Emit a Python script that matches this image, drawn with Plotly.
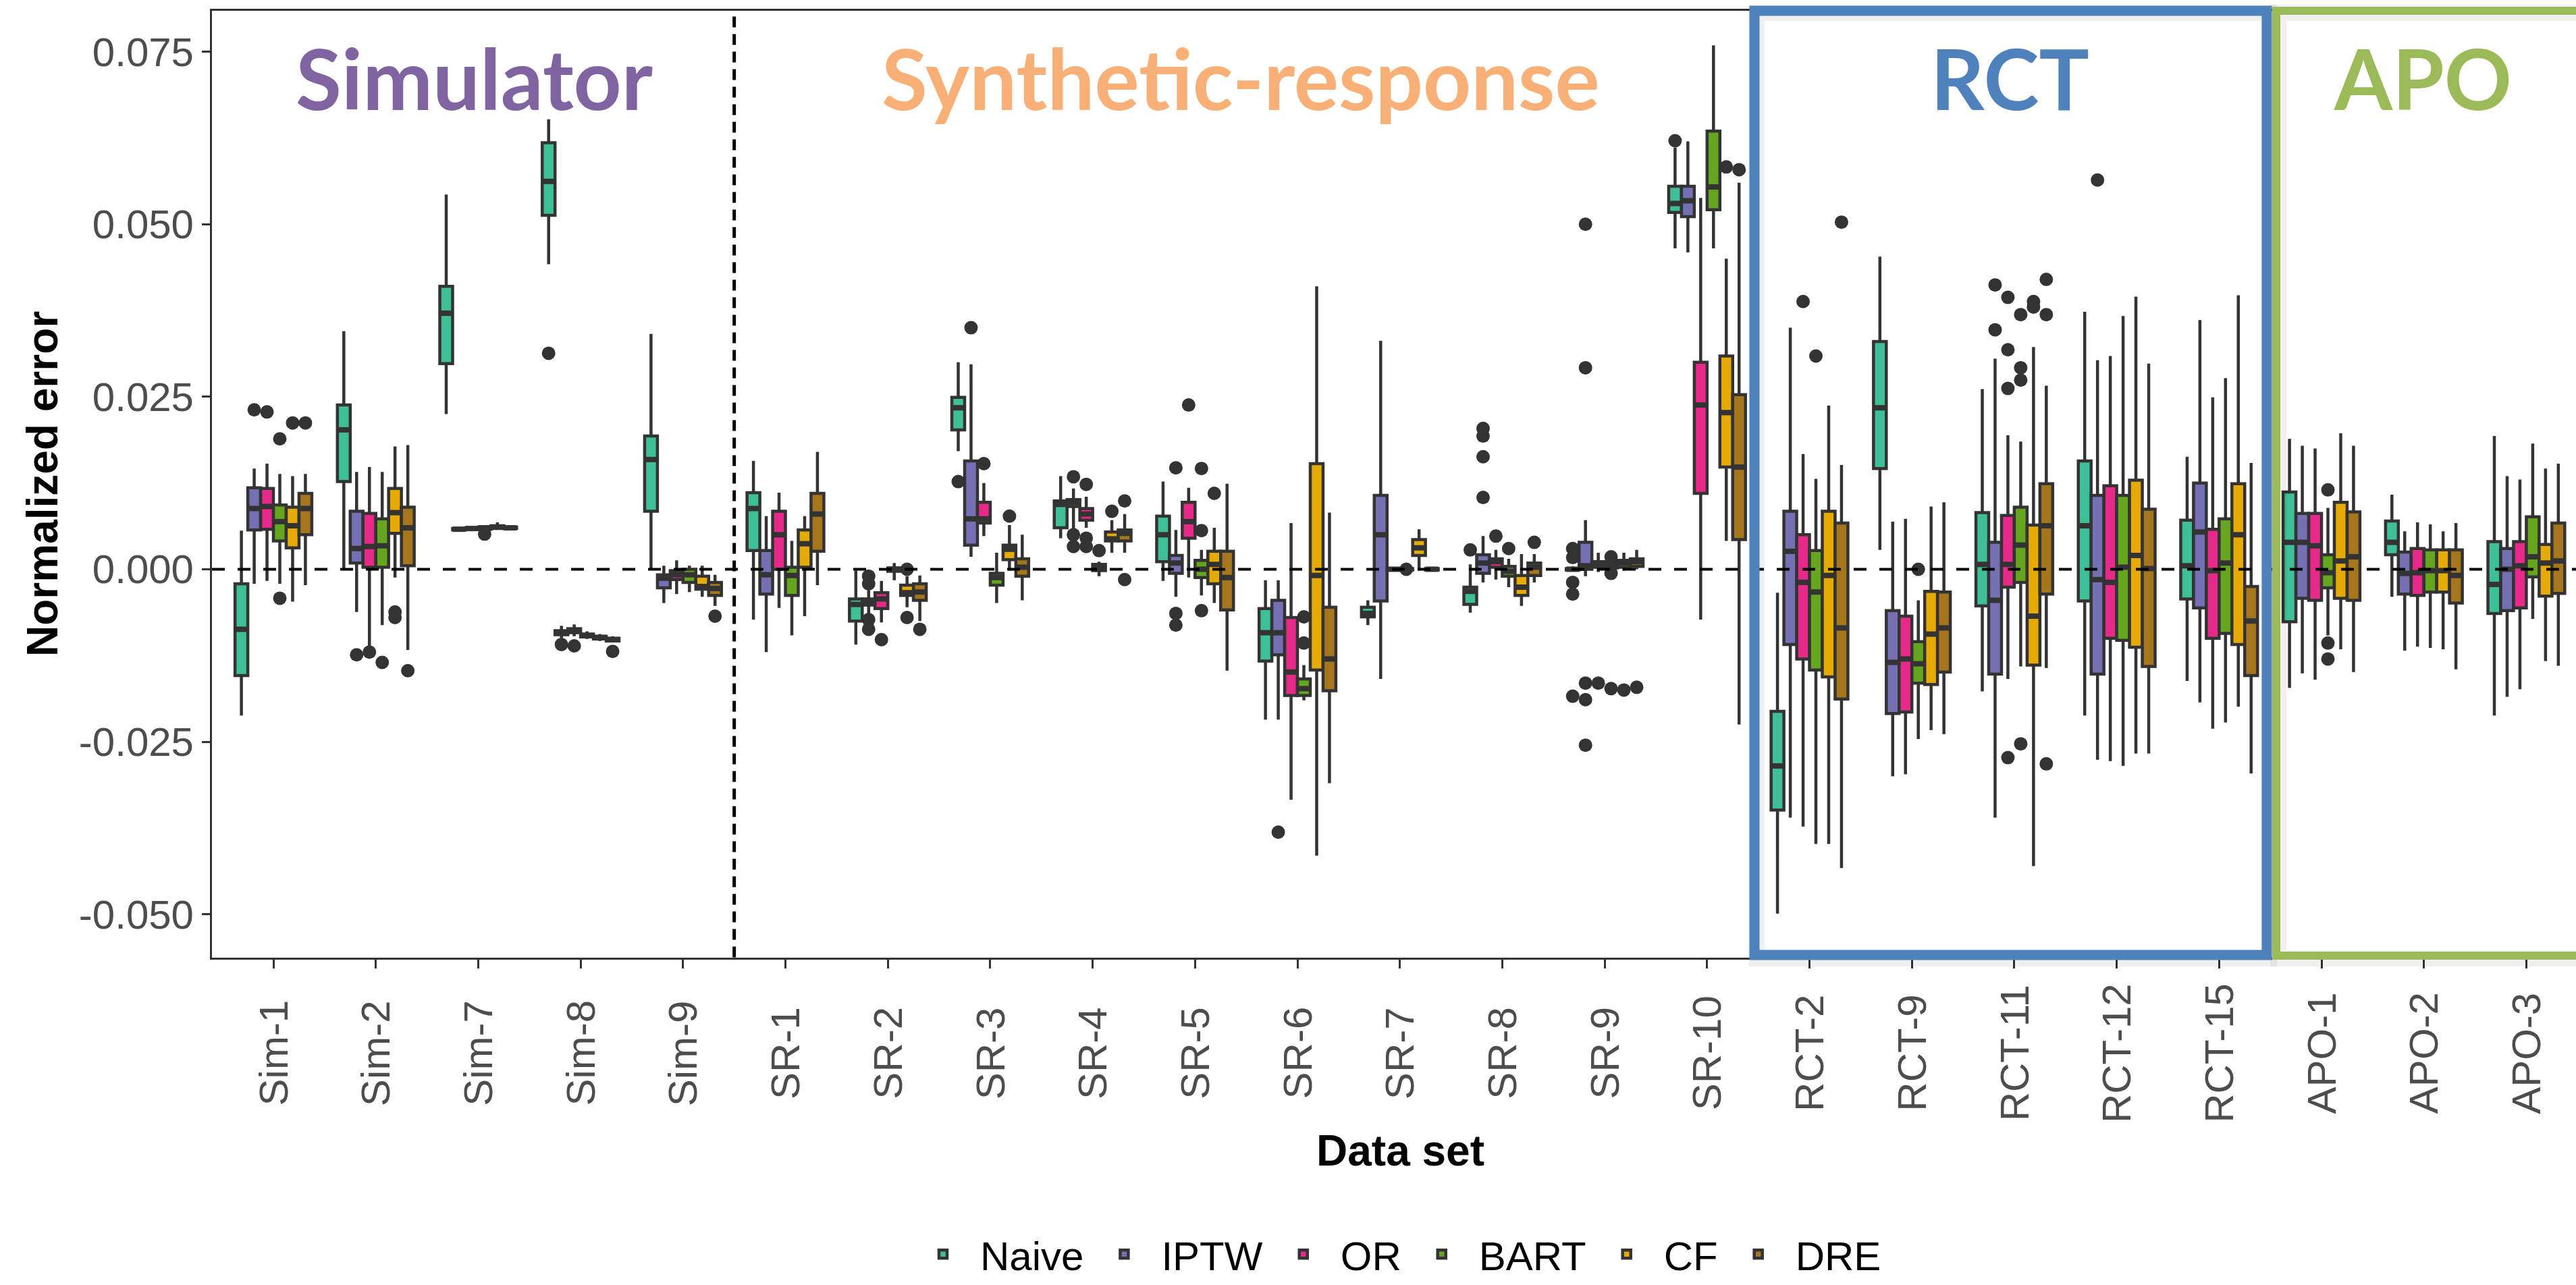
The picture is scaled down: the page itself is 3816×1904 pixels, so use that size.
import plotly.graph_objects as go

W, H = 3816, 1904

categories = ["Sim-1", "Sim-2", "Sim-7", "Sim-8", "Sim-9",
              "SR-1", "SR-2", "SR-3", "SR-4", "SR-5", "SR-6", "SR-7", "SR-8", "SR-9", "SR-10",
              "RCT-2", "RCT-9", "RCT-11", "RCT-12", "RCT-15",
              "APO-1", "APO-2", "APO-3"]
methods = ["Naive", "IPTW", "OR", "BART", "CF", "DRE"]
colors = ["#3FBF96", "#7570B3", "#E7298A", "#66A61E", "#E6AB02", "#A6761D"]
yticks = [-0.05, -0.025, 0.0, 0.025, 0.05, 0.075]
ytick_text = ["-0.050", "-0.025", "0.000", "0.025", "0.050", "0.075"]

# (lower whisker, q1, median, q3, upper whisker) per data set
naive = [
    (-0.0212, -0.0154, -0.0087, -0.0021, 0.0056),
    (0.0000, 0.0127, 0.0202, 0.0238, 0.0345),
    (0.0225, 0.0298, 0.0371, 0.0410, 0.0543),
    (0.0442, 0.0513, 0.0562, 0.0618, 0.0652),
    (0.0000, 0.0084, 0.0159, 0.0193, 0.0341),
    (-0.0073, 0.0027, 0.0088, 0.0111, 0.0157),
    (-0.0109, -0.0075, -0.0051, -0.0043, -0.0002),
    (0.0171, 0.0202, 0.0234, 0.0249, 0.0300),
    (0.0045, 0.0060, 0.0094, 0.0099, 0.0135),
    (-0.0017, 0.0011, 0.0050, 0.0077, 0.0127),
    (-0.0218, -0.0133, -0.0092, -0.0057, -0.0016),
    (-0.0081, -0.0069, -0.0064, -0.0055, -0.0045),
    (-0.0063, -0.0051, -0.0032, -0.0026, 0.0007),
    (-0.0003, -0.0001, 0.0000, 0.0001, 0.0004),
    (0.0465, 0.0517, 0.0530, 0.0555, 0.0611),
    (-0.0499, -0.0349, -0.0285, -0.0206, -0.0034),
    (0.0028, 0.0146, 0.0234, 0.0330, 0.0453),
    (-0.0177, -0.0053, 0.0007, 0.0082, 0.0261),
    (-0.0212, -0.0046, 0.0063, 0.0157, 0.0373),
    (-0.0162, -0.0043, 0.0005, 0.0071, 0.0163),
    (-0.0172, -0.0076, 0.0039, 0.0112, 0.0189),
    (-0.0040, 0.0021, 0.0039, 0.0070, 0.0108),
    (-0.0212, -0.0064, -0.0022, 0.0040, 0.0193),
]
iptw = [
    (-0.0021, 0.0057, 0.0088, 0.0118, 0.0146),
    (-0.0062, 0.0009, 0.0030, 0.0084, 0.0141),
    (0.0056, 0.0057, 0.0058, 0.0059, 0.0060),
    (-0.0100, -0.0095, -0.0092, -0.0089, -0.0082),
    (-0.0049, -0.0027, -0.0013, -0.0008, 0.0005),
    (-0.0120, -0.0036, -0.0008, 0.0027, 0.0077),
    (-0.0065, -0.0052, -0.0047, -0.0043, -0.0030),
    (0.0018, 0.0035, 0.0073, 0.0157, 0.0297),
    (0.0058, 0.0091, 0.0097, 0.0101, 0.0117),
    (-0.0040, -0.0006, 0.0009, 0.0020, 0.0057),
    (-0.0218, -0.0124, -0.0092, -0.0045, -0.0016),
    (-0.0159, -0.0046, 0.0050, 0.0107, 0.0331),
    (-0.0019, -0.0006, 0.0009, 0.0021, 0.0048),
    (-0.0010, 0.0000, 0.0005, 0.0039, 0.0071),
    (0.0459, 0.0511, 0.0534, 0.0555, 0.0620),
    (-0.0360, -0.0109, 0.0026, 0.0084, 0.0350),
    (-0.0300, -0.0209, -0.0135, -0.0060, 0.0069),
    (-0.0360, -0.0152, -0.0045, 0.0039, 0.0305),
    (-0.0276, -0.0152, -0.0015, 0.0107, 0.0303),
    (-0.0193, -0.0056, 0.0054, 0.0125, 0.0361),
    (-0.0151, -0.0042, 0.0039, 0.0081, 0.0179),
    (-0.0118, -0.0036, -0.0006, 0.0025, 0.0055),
    (-0.0185, -0.0060, 0.0000, 0.0030, 0.0135),
]
or_ = [
    (-0.0017, 0.0058, 0.0091, 0.0117, 0.0153),
    (-0.0113, 0.0003, 0.0033, 0.0081, 0.0148),
    (0.0056, 0.0058, 0.0059, 0.0060, 0.0062),
    (-0.0097, -0.0092, -0.0089, -0.0086, -0.0080),
    (-0.0036, -0.0015, -0.0008, -0.0002, 0.0013),
    (-0.0056, 0.0000, 0.0050, 0.0084, 0.0111),
    (-0.0077, -0.0057, -0.0043, -0.0034, -0.0017),
    (0.0048, 0.0067, 0.0073, 0.0097, 0.0125),
    (0.0060, 0.0071, 0.0080, 0.0088, 0.0105),
    (-0.0012, 0.0045, 0.0069, 0.0097, 0.0118),
    (-0.0334, -0.0183, -0.0149, -0.0070, 0.0067),
    (-0.0002, -0.0001, 0.0000, 0.0001, 0.0002),
    (-0.0015, 0.0003, 0.0011, 0.0015, 0.0028),
    (-0.0004, 0.0003, 0.0007, 0.0011, 0.0024),
    (-0.0073, 0.0110, 0.0238, 0.0300, 0.0538),
    (-0.0373, -0.0130, -0.0019, 0.0050, 0.0167),
    (-0.0297, -0.0207, -0.0130, -0.0068, 0.0073),
    (-0.0159, -0.0026, 0.0007, 0.0078, 0.0194),
    (-0.0278, -0.0100, -0.0019, 0.0121, 0.0309),
    (-0.0231, -0.0100, -0.0002, 0.0058, 0.0249),
    (-0.0160, -0.0045, 0.0034, 0.0081, 0.0175),
    (-0.0112, -0.0038, -0.0005, 0.0030, 0.0068),
    (-0.0174, -0.0056, 0.0005, 0.0040, 0.0130),
]
bart = [
    (-0.0021, 0.0041, 0.0069, 0.0093, 0.0138),
    (-0.0081, 0.0003, 0.0034, 0.0073, 0.0141),
    (0.0056, 0.0058, 0.0060, 0.0061, 0.0062),
    (-0.0101, -0.0098, -0.0096, -0.0094, -0.0090),
    (-0.0033, -0.0019, -0.0008, 0.0000, 0.0005),
    (-0.0096, -0.0038, -0.0009, 0.0003, 0.0041),
    (-0.0016, -0.0003, 0.0000, 0.0002, 0.0009),
    (-0.0049, -0.0023, -0.0012, -0.0006, 0.0024),
    (-0.0010, -0.0002, 0.0003, 0.0007, 0.0011),
    (-0.0038, -0.0012, 0.0000, 0.0013, 0.0028),
    (-0.0190, -0.0183, -0.0173, -0.0159, -0.0139),
    (-0.0003, -0.0001, 0.0000, 0.0001, 0.0003),
    (-0.0026, -0.0010, -0.0003, 0.0004, 0.0015),
    (-0.0002, 0.0002, 0.0005, 0.0009, 0.0013),
    (0.0465, 0.0521, 0.0554, 0.0635, 0.0759),
    (-0.0398, -0.0146, -0.0033, 0.0027, 0.0131),
    (-0.0246, -0.0165, -0.0137, -0.0105, -0.0045),
    (-0.0141, -0.0019, 0.0035, 0.0090, 0.0185),
    (-0.0285, -0.0103, 0.0003, 0.0107, 0.0367),
    (-0.0222, -0.0093, 0.0009, 0.0073, 0.0277),
    (-0.0096, -0.0027, -0.0005, 0.0021, 0.0089),
    (-0.0114, -0.0033, -0.0002, 0.0028, 0.0065),
    (-0.0072, -0.0011, 0.0018, 0.0076, 0.0182),
]
cf = [
    (-0.0047, 0.0031, 0.0063, 0.0090, 0.0135),
    (-0.0012, 0.0052, 0.0082, 0.0117, 0.0178),
    (0.0057, 0.0059, 0.0061, 0.0063, 0.0068),
    (-0.0104, -0.0101, -0.0099, -0.0097, -0.0094),
    (-0.0040, -0.0029, -0.0025, -0.0010, 0.0005),
    (-0.0068, 0.0003, 0.0037, 0.0057, 0.0077),
    (-0.0055, -0.0038, -0.0034, -0.0023, -0.0010),
    (-0.0002, 0.0014, 0.0029, 0.0035, 0.0064),
    (0.0024, 0.0041, 0.0044, 0.0054, 0.0071),
    (-0.0049, -0.0021, 0.0007, 0.0026, 0.0060),
    (-0.0415, -0.0146, -0.0009, 0.0153, 0.0410),
    (-0.0002, 0.0020, 0.0031, 0.0043, 0.0058),
    (-0.0053, -0.0038, -0.0026, -0.0009, 0.0022),
    (-0.0002, 0.0003, 0.0009, 0.0013, 0.0024),
    (0.0041, 0.0148, 0.0227, 0.0309, 0.0450),
    (-0.0398, -0.0156, -0.0009, 0.0084, 0.0237),
    (-0.0233, -0.0167, -0.0094, -0.0032, 0.0091),
    (-0.0430, -0.0139, -0.0068, 0.0064, 0.0322),
    (-0.0267, -0.0113, 0.0020, 0.0129, 0.0395),
    (-0.0199, -0.0109, 0.0050, 0.0124, 0.0397),
    (-0.0116, -0.0042, 0.0012, 0.0097, 0.0197),
    (-0.0116, -0.0033, -0.0002, 0.0028, 0.0055),
    (-0.0133, -0.0039, 0.0009, 0.0036, 0.0146),
]
dre = [
    (-0.0023, 0.0050, 0.0088, 0.0110, 0.0138),
    (-0.0117, 0.0005, 0.0060, 0.0090, 0.0180),
    (0.0058, 0.0059, 0.0060, 0.0061, 0.0062),
    (-0.0106, -0.0104, -0.0102, -0.0100, -0.0097),
    (-0.0053, -0.0038, -0.0028, -0.0019, -0.0008),
    (-0.0023, 0.0026, 0.0080, 0.0110, 0.0170),
    (-0.0075, -0.0045, -0.0033, -0.0021, -0.0009),
    (-0.0045, -0.0010, 0.0003, 0.0015, 0.0050),
    (0.0024, 0.0041, 0.0052, 0.0057, 0.0080),
    (-0.0147, -0.0059, -0.0012, 0.0026, 0.0124),
    (-0.0310, -0.0176, -0.0130, -0.0055, 0.0082),
    (-0.0002, -0.0001, 0.0000, 0.0001, 0.0002),
    (-0.0019, -0.0009, 0.0003, 0.0009, 0.0022),
    (0.0000, 0.0004, 0.0011, 0.0015, 0.0028),
    (-0.0225, 0.0043, 0.0148, 0.0253, 0.0560),
    (-0.0433, -0.0188, -0.0085, 0.0067, 0.0151),
    (-0.0239, -0.0149, -0.0085, -0.0033, 0.0097),
    (-0.0143, -0.0036, 0.0063, 0.0124, 0.0266),
    (-0.0267, -0.0141, 0.0001, 0.0087, 0.0298),
    (-0.0296, -0.0154, -0.0075, -0.0025, 0.0154),
    (-0.0149, -0.0045, 0.0018, 0.0083, 0.0179),
    (-0.0145, -0.0049, -0.0009, 0.0028, 0.0067),
    (-0.0140, -0.0035, 0.0012, 0.0067, 0.0153),
]

# outliers per data set
naive_out = [[], [], [], [0.0313], [], [], [], [0.0127], [], [], [], [], [0.0028],
             [0.0030, 0.0017, -0.0019, -0.0036, -0.0184], [0.0621], [], [], [], [], [], [], [], []]
iptw_out = [[0.0231], [-0.0124], [], [-0.0109], [], [], [-0.0010, -0.0021, -0.0073, -0.0087],
            [0.0350], [0.0134, 0.0050, 0.0033], [0.0147, -0.0064, -0.0081], [-0.0381], [],
            [0.0204, 0.0193, 0.0163, 0.0104], [0.0500, 0.0292, -0.0165, -0.0189, -0.0255],
            [], [], [], [0.0412, 0.0347], [0.0564], [], [], [], []]
or_out = [[0.0228], [-0.0120], [], [-0.0111], [], [], [-0.0102], [0.0153], [0.0123, 0.0045, 0.0033],
          [0.0238], [], [], [0.0048], [-0.0165], [], [0.0388], [], [0.0394, 0.0318, 0.0262, -0.0273],
          [], [], [], [], []]
bart_out = [[0.0189, -0.0042], [-0.0135], [0.0051], [], [], [], [], [], [0.0027],
            [0.0146, 0.0056, -0.0060], [-0.0069, -0.0107], [0.0], [0.0030], [0.0018, -0.0006, -0.0173],
            [], [0.0309], [0.0], [0.0369, 0.0292, 0.0274, -0.0253], [], [], [0.0115, -0.0107, -0.0130],
            [], []]
cf_out = [[0.0212], [-0.0062, -0.0070], [], [], [], [], [0.0, -0.0070], [0.0077], [0.0084], [0.0110],
          [], [], [], [-0.0175], [0.0583], [], [], [0.0388, 0.0380], [], [], [], [], []]
dre_out = [[0.0212], [-0.0147], [], [-0.0119], [-0.0068], [], [-0.0087], [], [0.0099, -0.0015], [],
           [], [], [0.0039], [-0.0171], [0.0579], [0.0503], [], [0.0420, 0.0369, -0.0282], [], [], [],
           [], []]

group_titles = ["Simulator", "Synthetic-response", "RCT", "APO"]
group_colors = ["#8064A2", "#F9B077", "#4F81BD", "#9BBB59"]

all_stats = [naive, iptw, or_, bart, cf, dre]
all_outs = [naive_out, iptw_out, or_out, bart_out, cf_out, dre_out]

FONT = "Liberation Sans, Arial, sans-serif"
DODGE = 0.75
BW = DODGE / len(methods)
EDGE = "#333333"


def fx(px):
    return px / W


def fy(py):
    return 1 - py / H


fig = go.Figure()
n = len(categories)
for m, (name, color, stats, outs) in enumerate(zip(methods, colors, all_stats, all_outs)):
    off = (m - (len(methods) - 1) / 2) * BW
    xs = [i + off for i in range(n)]
    lf = [s[0] for s in stats]
    q1 = [s[1] for s in stats]
    med = [s[2] for s in stats]
    q3 = [s[3] for s in stats]
    uf = [s[4] for s in stats]
    fig.add_trace(go.Box(
        x=xs, q1=q1, median=med, q3=q3, lowerfence=lf, upperfence=uf,
        width=BW, name=name, fillcolor=color,
        line=dict(color=EDGE, width=4.5), whiskerwidth=0,
        boxpoints=False, hoverinfo="skip",
    ))
    mx, my = [], []
    for x, v in zip(xs, med):
        mx += [x - BW / 2, x + BW / 2, None]
        my += [v, v, None]
    fig.add_trace(go.Scatter(x=mx, y=my, mode="lines", line=dict(color=EDGE, width=8),
                             showlegend=False, hoverinfo="skip"))
    ox, oy = [], []
    for x, lst in zip(xs, outs):
        for v in lst:
            ox.append(x)
            oy.append(v)
    fig.add_trace(go.Scatter(x=ox, y=oy, mode="markers",
                             marker=dict(size=20, color=EDGE, line=dict(width=0)),
                             showlegend=False, hoverinfo="skip"))

# category labels (rotated, centred like ggplot)
for i, c in enumerate(categories):
    fig.add_annotation(x=i, xref="x", y=fy(1567), yref="paper", text=c, textangle=-90,
                       showarrow=False, xanchor="center", yanchor="middle",
                       font=dict(size=60, color="#4D4D4D", family=FONT))

fig.add_annotation(x=fx(2074), y=fy(1712), xref="paper", yref="paper", text="<b>Data set</b>",
                   showarrow=False, xanchor="center", yanchor="middle",
                   font=dict(size=64, color="black", family=FONT))
fig.add_annotation(x=fx(63), y=fy(720), xref="paper", yref="paper", text="<b>Normalized error</b>",
                   textangle=-90, showarrow=False, xanchor="center", yanchor="middle",
                   font=dict(size=64, color="black", family=FONT))

title_x = [702, 1838, 2977, 3589]
for t, c, px in zip(group_titles, group_colors, title_x):
    fig.add_annotation(x=fx(px), y=fy(115), xref="paper", yref="paper", text="<b>" + t + "</b>",
                       showarrow=False, xanchor="center", yanchor="middle",
                       font=dict(size=124, color=c, family="Lato, " + FONT))

# reference lines
fig.add_shape(type="line", xref="paper", yref="y", x0=fx(314), x1=1, y0=0, y1=0,
              line=dict(color="black", width=4, dash="19px,19px"), layer="above")
fig.add_shape(type="line", xref="x", yref="y domain", x0=4.5, x1=4.5, y0=0, y1=1,
              line=dict(color="black", width=5, dash="16px,10px"), layer="above")

# soft shadows behind the highlight frames
for x0, x1 in [(2599, 3358), (3372, 3900)]:
    fig.add_shape(type="rect", xref="paper", yref="paper", x0=fx(x0 + 3), x1=fx(x1 + 3),
                  y0=fy(1426), y1=fy(19), line=dict(color="rgba(0,0,0,0.06)", width=24),
                  layer="above")

# highlight frames
fig.add_shape(type="rect", xref="paper", yref="paper", x0=fx(2599), x1=fx(3358),
              y0=fy(1421), y1=fy(16), line=dict(color="#4F81BD", width=15), layer="above")
fig.add_shape(type="rect", xref="paper", yref="paper", x0=fx(3372), x1=fx(3900),
              y0=fy(1422), y1=fy(16), line=dict(color="#9BBB59", width=12), layer="above")

fig.update_layout(
    width=W, height=H, autosize=False,
    margin=dict(l=0, r=0, t=0, b=0),
    paper_bgcolor="white", plot_bgcolor="white",
    boxmode="overlay",
    font=dict(family=FONT),
    xaxis=dict(domain=[fx(314), 1], range=[-0.6, 22.485], tickvals=list(range(n)),
               showticklabels=False, ticks="outside", ticklen=13, tickwidth=3, tickcolor=EDGE,
               showline=True, linecolor=EDGE, linewidth=3, mirror=True,
               showgrid=False, zeroline=False),
    yaxis=dict(domain=[fy(1424.6), fy(15.7)], range=[-0.05625, 0.08096],
               tickvals=yticks, ticktext=ytick_text, ticks="outside", ticklen=12, tickwidth=3,
               tickcolor=EDGE, tickfont=dict(size=60, color="#4D4D4D", family=FONT),
               showline=True, linecolor=EDGE, linewidth=3, showgrid=False, zeroline=False),
    legend=dict(orientation="h", x=fx(2067), xanchor="center", y=fy(1866), yanchor="middle",
                font=dict(size=60, color="black", family=FONT), bgcolor="rgba(0,0,0,0)",
                itemwidth=100),
    showlegend=True,
)

fig.write_html("out.html")
